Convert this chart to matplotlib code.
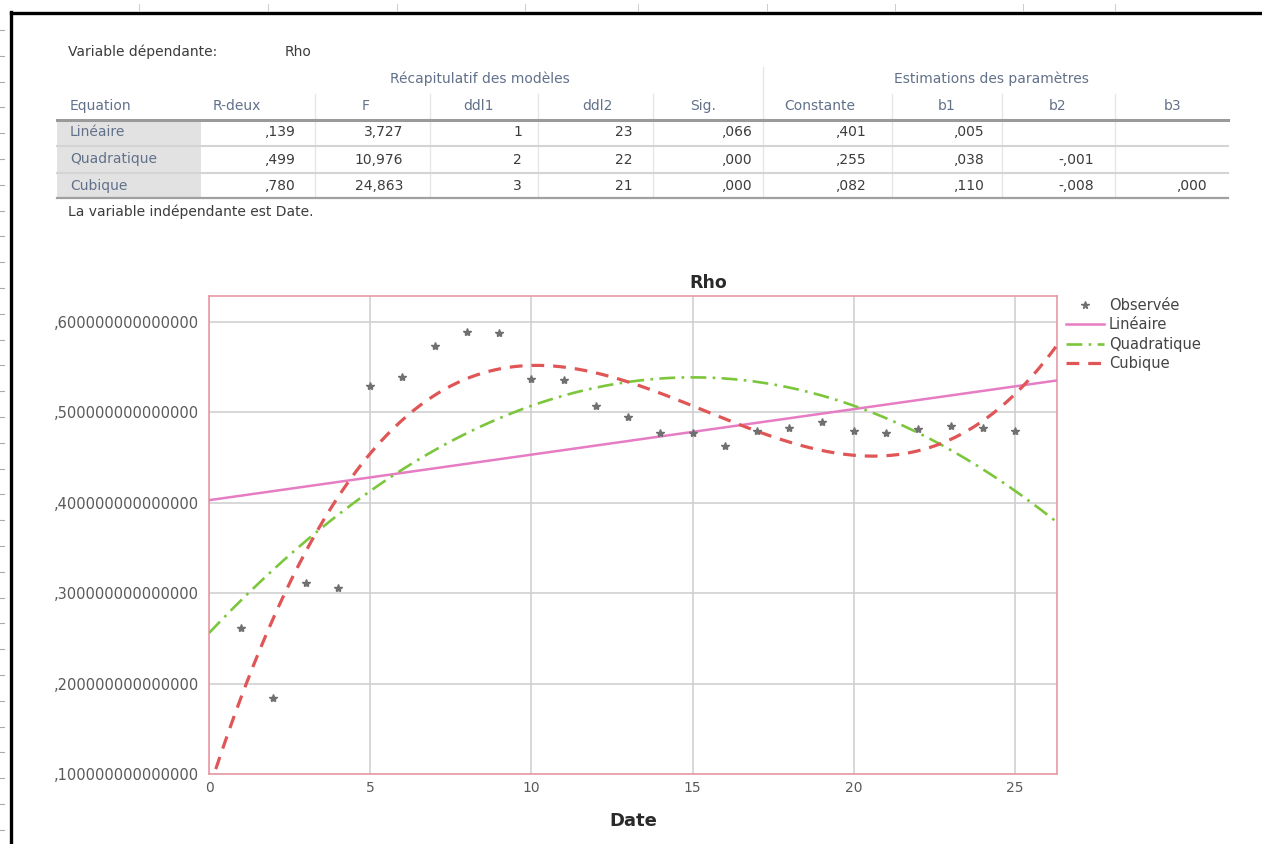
import numpy as np
import matplotlib
matplotlib.use('Agg')
import matplotlib.pyplot as plt
from matplotlib.lines import Line2D
from matplotlib.patches import Rectangle

# table data (SPSS "Récapitulatif des modèles")
equations = ['Linéaire', 'Quadratique', 'Cubique']
r_deux = [',139', ',499', ',780']
f_vals = ['3,727', '10,976', '24,863']
ddl1 = ['1', '2', '3']
ddl2 = ['23', '22', '21']
sig = [',066', ',000', ',000']
constante = [',401', ',255', ',082']
b1 = [',005', ',038', ',110']
b2 = ['', '-,001', '-,008']
b3 = ['', '', ',000']

# observed values of Rho by Date
date = [1, 2, 3, 4, 5, 6, 7, 8, 9, 10, 11, 12, 13, 14, 15, 16, 17, 18, 19, 20, 21, 22, 23, 24, 25]
rho = [0.262, 0.184, 0.311, 0.306, 0.529, 0.539, 0.573, 0.589, 0.588, 0.537, 0.536, 0.507, 0.495,
       0.477, 0.477, 0.463, 0.479, 0.483, 0.489, 0.480, 0.477, 0.482, 0.485, 0.483, 0.479]

W, H = 1262, 844
fig = plt.figure(figsize=(W / 100, H / 100), dpi=100)
plt.rcParams['font.family'] = ['DejaVu Sans']

# overlay in pixel coords for table and frame
ov = fig.add_axes([0, 0, 1, 1])
ov.set_xlim(0, W)
ov.set_ylim(H, 0)
ov.axis('off')

# page frame (left and top black edges) + little ruler ticks
ov.add_line(Line2D([11, 11], [12, H], color='black', lw=2.4))
ov.add_line(Line2D([11, W], [13, 13], color='black', lw=2.4))
for yy in np.arange(30, H, 25.8):
    ov.add_line(Line2D([0, 4], [yy, yy], color='#aaaaaa', lw=0.8))
for xx in [139, 268, 397, 525, 638, 767, 895, 1023, 1115]:
    ov.add_line(Line2D([xx, xx], [4, 11], color='#cccccc', lw=0.7))

hdr_col = '#62718a'
val_col = '#3c3c3c'
fs = 10

ov.text(68, 52, 'Variable dépendante:', fontsize=fs, color=val_col, va='center')
ov.text(285, 52, 'Rho', fontsize=fs, color=val_col, va='center')
ov.text(480, 79, 'Récapitulatif des modèles', fontsize=fs, color=hdr_col, va='center', ha='center')
ov.text(991, 79, 'Estimations des paramètres', fontsize=fs, color=hdr_col, va='center', ha='center')

col_names = ['R-deux', 'F', 'ddl1', 'ddl2', 'Sig.', 'Constante', 'b1', 'b2', 'b3']
col_centers = [237, 366, 478, 597, 703, 820, 947, 1058, 1173]
col_rights = [296, 403, 522, 633, 753, 867, 985, 1094, 1208]
ov.text(70, 106, 'Equation', fontsize=fs, color=hdr_col, va='center')
for name, cx in zip(col_names, col_centers):
    ov.text(cx, 106, name, fontsize=fs, color=hdr_col, va='center', ha='center')

# separators
for sx in [315, 430, 538, 653, 892, 1002, 1115]:
    ov.add_line(Line2D([sx, sx], [94, 197], color='#e6e6e6', lw=1))
ov.add_line(Line2D([763, 763], [67, 197], color='#e6e6e6', lw=1))

ov.add_patch(Rectangle((57, 121), 144, 76, color='#e2e2e2', lw=0))
row_y = [132.5, 159.5, 186]
columns = [r_deux, f_vals, ddl1, ddl2, sig, constante, b1, b2, b3]
for i, eq in enumerate(equations):
    ov.text(70, row_y[i], eq, fontsize=fs, color=hdr_col, va='center')
    for col, rx in zip(columns, col_rights):
        ov.text(rx, row_y[i], col[i], fontsize=fs, color=val_col, va='center', ha='right')
ov.add_line(Line2D([57, 1228], [120, 120], color='#9a9a9a', lw=2.2))
for ly in [146, 172.5]:
    ov.add_line(Line2D([57, 1228], [ly, ly], color='#d4d4d4', lw=1.5))
ov.add_line(Line2D([57, 1228], [197.5, 197.5], color='#a0a0a0', lw=1.6))
ov.text(68, 212, 'La variable indépendante est Date.', fontsize=fs, color=val_col, va='center')

# chart
ax = fig.add_axes([209 / W, (H - 774) / H, (1057 - 209) / W, (774 - 296) / H])
xs = np.linspace(0, 26.3, 400)
x_arr = np.array(date, dtype=float)
y_arr = np.array(rho)
p1 = np.polyfit(x_arr, y_arr, 1)
p2 = np.polyfit(x_arr, y_arr, 2)
p3 = np.polyfit(x_arr, y_arr, 3)

ax.plot(date, rho, linestyle='none', marker='*', color='#707070', markersize=6, label='Observée', zorder=5)
ax.plot(xs, np.polyval(p1, xs), color='#e67cc3', lw=1.8, label='Linéaire', zorder=4)
ax.plot(xs, np.polyval(p2, xs), color='#7cc63c', lw=1.9, linestyle=(0, (6, 2.4, 1, 2.4)), label='Quadratique', zorder=4)
ax.plot(xs, np.polyval(p3, xs), color='#e05555', lw=2.3, linestyle=(0, (4, 2.8)), label='Cubique', zorder=4)

ax.set_xlim(0, 26.3)
ax.set_ylim(0.1, 0.6288)
ax.set_xticks([0, 5, 10, 15, 20, 25])
ax.set_yticks([0.1, 0.2, 0.3, 0.4, 0.5, 0.6])
ax.set_yticklabels([',' + ('%.15f' % v)[2:] for v in [0.1, 0.2, 0.3, 0.4, 0.5, 0.6]])
ax.tick_params(length=0, labelsize=10.5, labelcolor='#5a5a5a')
ax.tick_params(axis='y', pad=7)
ax.tick_params(axis='x', pad=5, labelsize=10)
ax.grid(True, color='#cdcdcd', lw=1.1)
ax.set_axisbelow(True)
for s in ax.spines.values():
    s.set_color('#e89aa3')
    s.set_linewidth(1.2)

ax.set_xlabel('Date', fontsize=13, fontweight='bold', color='#2a2a2a', labelpad=12)
fig.text(708 / W, 1 - 283 / H, 'Rho', fontsize=12.5, fontweight='bold', color='#2a2a2a', ha='center', va='center')

ax.legend(loc='upper left', bbox_to_anchor=(1066 / W, 1 - 298 / H), bbox_transform=fig.transFigure,
          frameon=False, fontsize=10.5, handlelength=2.6, handletextpad=0.35, labelspacing=0.3,
          borderpad=0, borderaxespad=0, labelcolor='#444444', markerscale=0.9)

fig.savefig('out.png', dpi=100)
